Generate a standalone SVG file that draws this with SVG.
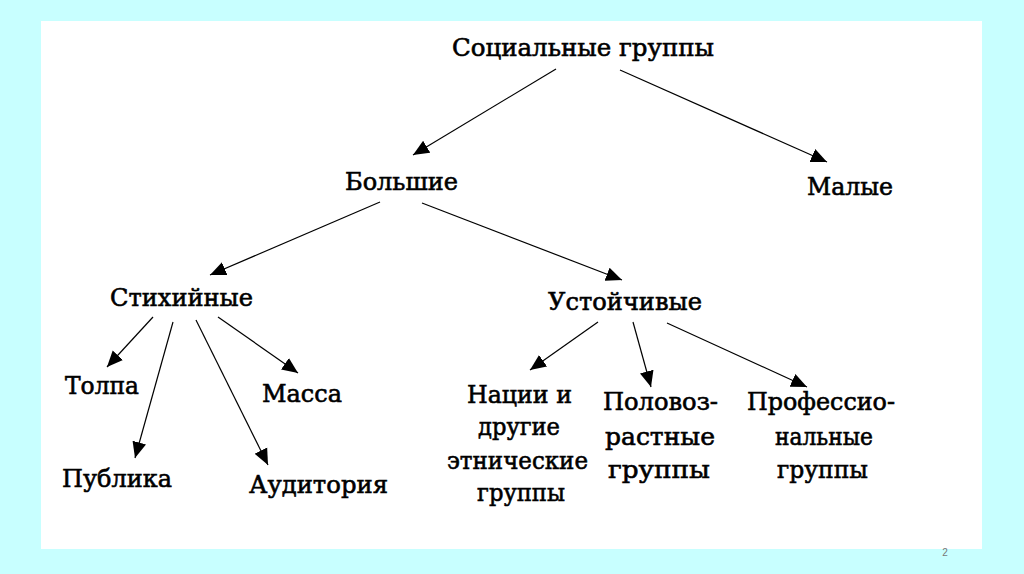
<svg xmlns="http://www.w3.org/2000/svg" width="1024" height="574" viewBox="0 0 1024 574">
<defs>
<style>
.t{font-family:'DejaVu Serif','Liberation Serif',serif;font-size:24px;fill:#000;stroke:#000;stroke-width:0.6;}
.c{stroke:#000;stroke-width:1.2;fill:none;marker-end:url(#ah);}
</style>
<marker id="ah" markerUnits="userSpaceOnUse" markerWidth="17" markerHeight="15" refX="16" refY="7" orient="auto" viewBox="0 0 17 14">
<path d="M0,0 L16,7 L0,14 Z" fill="#000"/>
</marker>
</defs>
<rect x="0" y="0" width="1024" height="574" fill="#c8ffff"/>
<rect x="41" y="21" width="941" height="528" fill="#fff"/>
<g id="connectors">
<line class="c" x1="556" y1="69" x2="413" y2="155"/>
<line class="c" x1="620" y1="70" x2="827" y2="162"/>
<line class="c" x1="380" y1="202" x2="210" y2="275"/>
<line class="c" x1="422" y1="203" x2="622" y2="280"/>
<line class="c" x1="153" y1="317" x2="107" y2="367"/>
<line class="c" x1="173" y1="322" x2="135" y2="458"/>
<line class="c" x1="196" y1="320" x2="268" y2="465"/>
<line class="c" x1="218" y1="317" x2="298" y2="373"/>
<line class="c" x1="598" y1="322" x2="530" y2="370"/>
<line class="c" x1="633" y1="322" x2="651" y2="387"/>
<line class="c" x1="667" y1="323" x2="807" y2="387"/>
</g>
<g id="n-social"><text class="t" x="452" y="56" textLength="262" lengthAdjust="spacingAndGlyphs">Социальные группы</text></g>
<g id="n-big"><text class="t" x="345" y="190" textLength="113" lengthAdjust="spacingAndGlyphs">Большие</text></g>
<g id="n-small"><text class="t" x="807" y="195" textLength="86" lengthAdjust="spacingAndGlyphs">Малые</text></g>
<g id="n-spont"><text class="t" x="110" y="306" textLength="143" lengthAdjust="spacingAndGlyphs">Стихийные</text></g>
<g id="n-stable"><text class="t" x="548" y="310" textLength="154" lengthAdjust="spacingAndGlyphs">Устойчивые</text></g>
<g id="n-crowd"><text class="t" x="65" y="394" textLength="74" lengthAdjust="spacingAndGlyphs">Толпа</text></g>
<g id="n-mass"><text class="t" x="262" y="402" textLength="80" lengthAdjust="spacingAndGlyphs">Масса</text></g>
<g id="n-public"><text class="t" x="62" y="487" textLength="110" lengthAdjust="spacingAndGlyphs">Публика</text></g>
<g id="n-audience"><text class="t" x="249" y="493" textLength="139" lengthAdjust="spacingAndGlyphs">Аудитория</text></g>
<g id="n-nations">
<text class="t" x="467" y="403" textLength="105" lengthAdjust="spacingAndGlyphs">Нации и</text>
<text class="t" x="478" y="435" textLength="82" lengthAdjust="spacingAndGlyphs">другие</text>
<text class="t" x="447" y="469" textLength="141" lengthAdjust="spacingAndGlyphs">этнические</text>
<text class="t" x="477" y="501" textLength="88" lengthAdjust="spacingAndGlyphs">группы</text>
</g>
<g id="n-sexage">
<text class="t" x="603" y="410" textLength="115" lengthAdjust="spacingAndGlyphs">Половоз-</text>
<text class="t" x="605" y="445" textLength="110" lengthAdjust="spacingAndGlyphs">растные</text>
<text class="t" x="608" y="478" textLength="102" lengthAdjust="spacingAndGlyphs">группы</text>
</g>
<g id="n-prof">
<text class="t" x="747" y="410" textLength="148" lengthAdjust="spacingAndGlyphs">Профессио-</text>
<text class="t" x="775" y="445" textLength="98" lengthAdjust="spacingAndGlyphs">нальные</text>
<text class="t" x="777" y="478" textLength="91" lengthAdjust="spacingAndGlyphs">группы</text>
</g>
<text x="945" y="556" font-family="Liberation Sans, Arial, sans-serif" font-size="10" fill="#777" text-anchor="middle">2</text>
</svg>
